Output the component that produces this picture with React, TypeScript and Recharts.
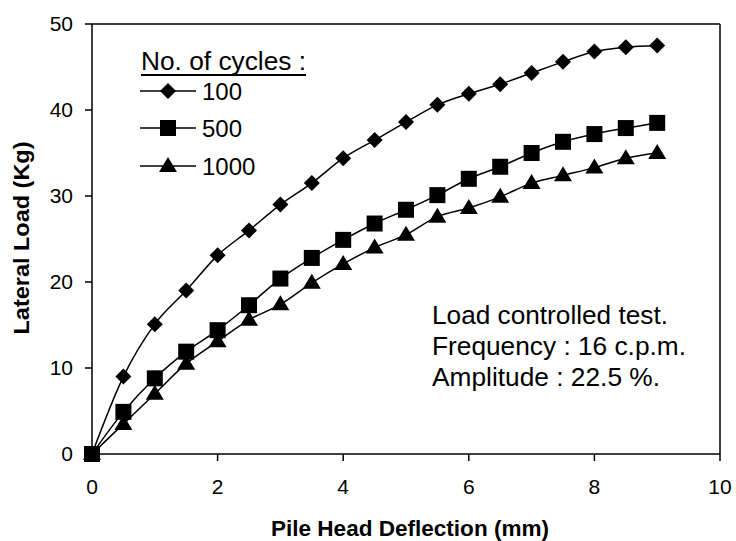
import React from 'react'
import {
  LineChart,
  Line,
  XAxis,
  YAxis,
  Legend,
  ReferenceLine
} from 'recharts'

const deflection = [0, 0.5, 1, 1.5, 2, 2.5, 3, 3.5, 4, 4.5, 5, 5.5, 6, 6.5, 7, 7.5, 8, 8.5, 9]
const load100 = [0, 9.0, 15.1, 19.0, 23.1, 26.0, 29.0, 31.5, 34.4, 36.5, 38.6, 40.6, 41.9, 43.0, 44.3, 45.6, 46.8, 47.3, 47.5]
const load500 = [0, 4.9, 8.8, 11.9, 14.4, 17.3, 20.4, 22.8, 24.9, 26.8, 28.4, 30.1, 32.0, 33.4, 35.0, 36.3, 37.2, 37.9, 38.5]
const load1000 = [0, 3.5, 7.0, 10.5, 13.1, 15.6, 17.4, 19.9, 22.1, 24.0, 25.5, 27.6, 28.6, 29.9, 31.5, 32.4, 33.3, 34.4, 35.0]

const xTicks = [0, 2, 4, 6, 8, 10]
const yTicks = [0, 10, 20, 30, 40, 50]
const cycleNames = ['100', '500', '1000']
const notes = ['Load controlled test.', 'Frequency : 16 c.p.m.', 'Amplitude : 22.5 %.']
const noteWidths = [236, 254, 228]

const data = deflection.map((d, i) => ({
  d,
  c100: load100[i],
  c500: load500[i],
  c1000: load1000[i]
}))

const FONT = '"Liberation Sans", Arial, sans-serif'
const INK = '#000'

// marker shapes
function diamond(cx: number, cy: number, key?: any) {
  return <path key={key} d={`M${cx},${cy - 8}L${cx + 8},${cy}L${cx},${cy + 8}L${cx - 8},${cy}Z`} fill={INK} />
}
function square(cx: number, cy: number, key?: any) {
  return <rect key={key} x={cx - 8} y={cy - 8} width={16} height={16} fill={INK} />
}
function triangle(cx: number, cy: number, key?: any) {
  return <path key={key} d={`M${cx},${cy - 9}L${cx + 9},${cy + 6}L${cx - 9},${cy + 6}Z`} fill={INK} />
}
const shapes = [diamond, square, triangle]

const dotFor = (fn: typeof diamond) => (p: any) => fn(p.cx, p.cy, p.index)

function LegendBox() {
  return (
    <svg width={400} height={200} style={{ overflow: 'visible' }}>
      <text x={141} y={70} fontSize={25} fontFamily={FONT} fill={INK} textLength={165} lengthAdjust="spacingAndGlyphs">
        No. of cycles :
      </text>
      <line x1={141} x2={306} y1={75} y2={75} stroke={INK} strokeWidth={2} />
      {cycleNames.map((name, i) => {
        const y = [91, 128, 166][i]
        return (
          <g key={name}>
            <line x1={140} x2={196} y1={y} y2={y} stroke={INK} strokeWidth={1.5} />
            {shapes[i](168, y)}
            <text x={202} y={y + 9} fontSize={24} fontFamily={FONT} fill={INK}>{name}</text>
          </g>
        )
      })}
    </svg>
  )
}

const YTitle = ({ viewBox }: any) => (
  <text
    x={0}
    y={0}
    transform={`translate(29, ${viewBox.y + viewBox.height / 2 - 1}) rotate(-90)`}
    textAnchor="middle"
    fontSize={22}
    fontWeight="bold"
    fontFamily={FONT}
    fill={INK}
    textLength={193}
    lengthAdjust="spacingAndGlyphs"
  >
    Lateral Load (Kg)
  </text>
)

const XTitle = ({ viewBox }: any) => (
  <text
    x={viewBox.x + viewBox.width / 2 + 4}
    y={536}
    textAnchor="middle"
    fontSize={22}
    fontWeight="bold"
    fontFamily={FONT}
    fill={INK}
    textLength={278}
    lengthAdjust="spacingAndGlyphs"
  >
    Pile Head Deflection (mm)
  </text>
)

export default function App() {
  return (
    <div style={{ position: 'absolute', left: 0, top: 0, width: 736, height: 541, background: '#fff' }}>
      <LineChart width={736} height={541} data={data} margin={{ top: 24, right: 16, left: 0, bottom: 0 }}>
        <XAxis
          dataKey="d"
          type="number"
          domain={[0, 10]}
          ticks={xTicks}
          height={87}
          tickSize={7}
          tickMargin={18}
          stroke={INK}
          strokeWidth={1.5}
          tick={{ fontSize: 21, fontFamily: FONT, fill: INK }}
          label={<XTitle />}
        />
        <YAxis
          type="number"
          domain={[0, 50]}
          ticks={yTicks}
          width={92}
          tickSize={7}
          tickMargin={12}
          stroke={INK}
          strokeWidth={1.5}
          tick={{ fontSize: 21, fontFamily: FONT, fill: INK }}
          label={<YTitle />}
        />
        <ReferenceLine y={50} stroke={INK} strokeWidth={1.5} />
        <ReferenceLine x={10} stroke={INK} strokeWidth={1.5} />
        <Legend
          layout="vertical"
          align="center"
          verticalAlign="middle"
          wrapperStyle={{ left: 0, top: 0, width: 400, height: 200 }}
          content={() => <LegendBox />}
        />
        <Line type="monotone" dataKey="c100" name="100" stroke={INK} strokeWidth={1.5} dot={dotFor(diamond)} activeDot={false} isAnimationActive={false} />
        <Line type="monotone" dataKey="c500" name="500" stroke={INK} strokeWidth={1.5} dot={dotFor(square)} activeDot={false} isAnimationActive={false} />
        <Line type="monotone" dataKey="c1000" name="1000" stroke={INK} strokeWidth={1.5} dot={dotFor(triangle)} activeDot={false} isAnimationActive={false} />
      </LineChart>
      <svg width={736} height={541} style={{ position: 'absolute', left: 0, top: 0, pointerEvents: 'none' }}>
        {notes.map((t, i) => (
          <text
            key={t}
            x={432}
            y={324 + i * 31}
            fontSize={25}
            fontFamily={FONT}
            fill={INK}
            textLength={noteWidths[i]}
            lengthAdjust="spacingAndGlyphs"
          >
            {t}
          </text>
        ))}
      </svg>
    </div>
  )
}
